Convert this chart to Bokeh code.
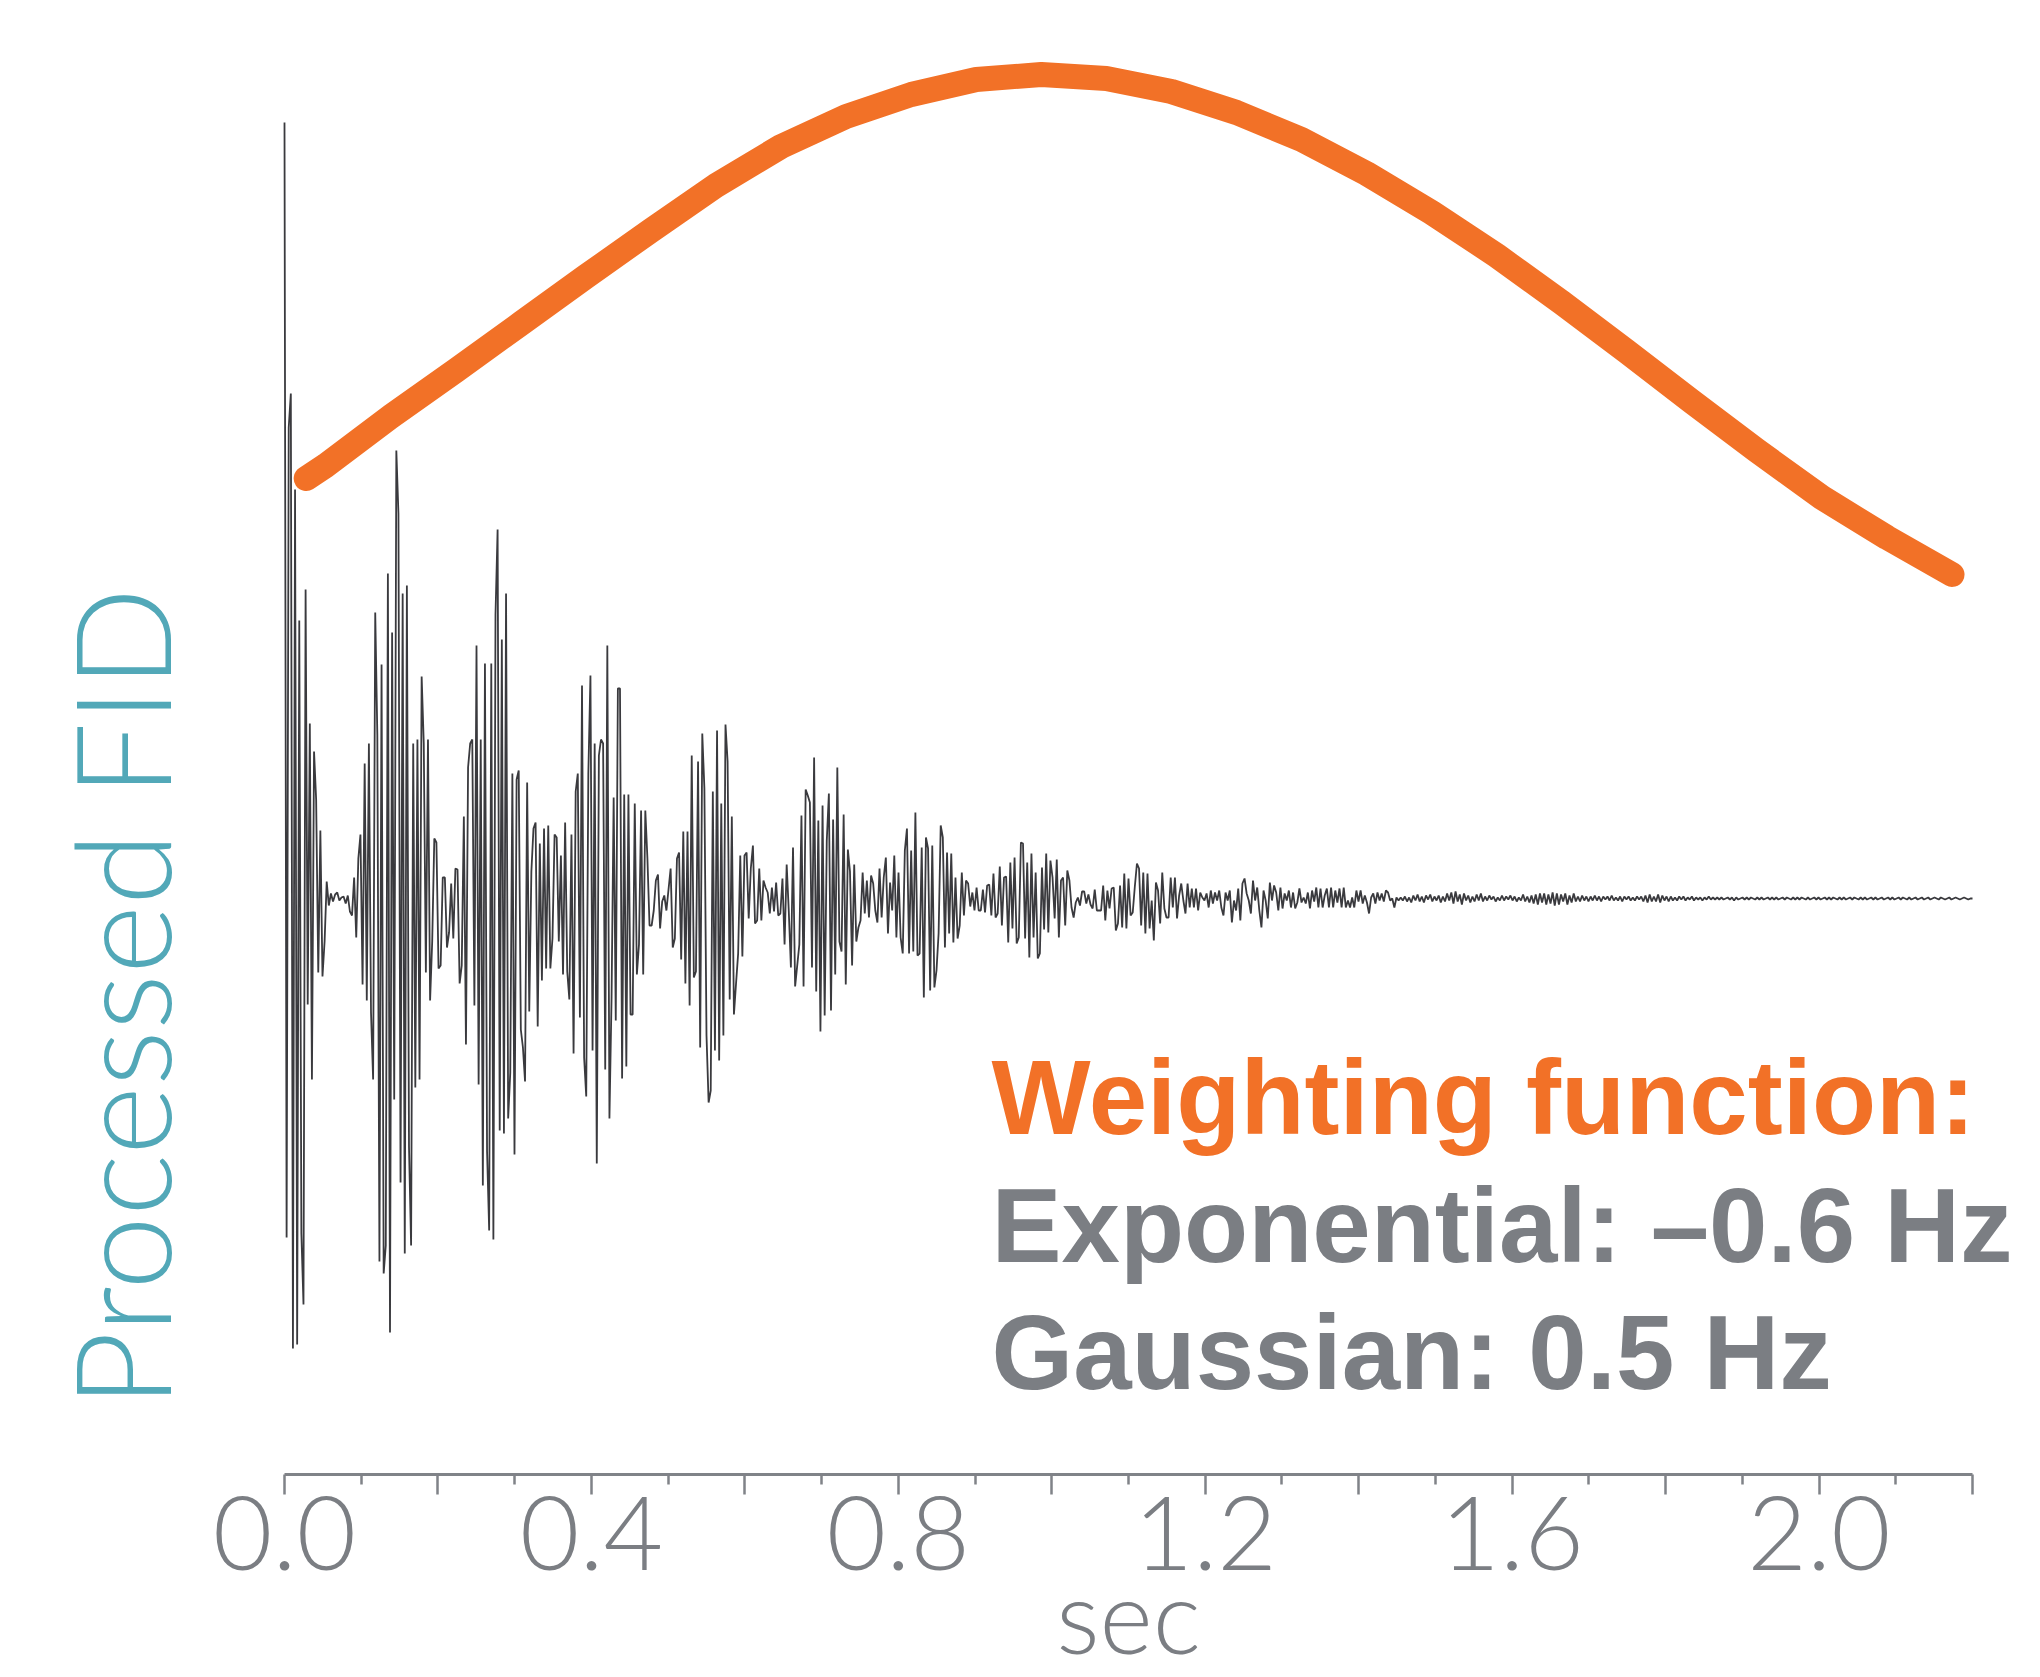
import numpy as np
from bokeh.plotting import figure
from bokeh.models import Range1d, FixedTicker, Label
from bokeh.embed import file_html
from bokeh.resources import INLINE

# ---------------- data ----------------
# Processed FID, sampled uniformly from 0 to 2.2 s (arbitrary units, baseline 0)
fid_part_a = [776, -339, 471, 505, -450, 409, -446, 278, -335, -406,
              309, -106, 175, -181, 147, 99, -74, 68, -78, -43,
              17, -7, 5, -3, 4, 6, -2, 1, 2, -5,
              3, -13, -17, 21, -39, 40, 64, -86, 135, -102,
              155, -114, -181, 286, 163, -363, 234, -375, -347, 325,
              -434, 266, -201, 448, 385, -284, 305, -355, 313, -248,
              -347, 155, -189, 159, -181, 222, 155, -74, 159, -102,
              -43, 60, 56]
fid_part_b = [-70, -67, 21, 21, -49, -34, 15, -40, 30, 29,
              -85, -67, 82, -146, 131, 155, 159, -107, 253, -186,
              159, -287, 235, -253, -332, 235, -341, 284, 369, -232,
              259, -235, 305, -220, -174, 125, -256, 119, 128, -131,
              -149, -183, 116, -113, 27, 70, 76, -128, 55, -82,
              70, -70, 73, -70, -40, 64, 61, -43, 43,
              -76, 76, -73, -101, 64, -155, 107, 125, -119, 213,
              -159, -198, 125, 223, -152, 155, -265, 143, 159, 155,
              -171, 253, -220, -100, 101, -122, 210, 210, -180, 104,
              -168, 104, -116, -116, 95, -76, -46, 88, -76, 88,
              40, -27, -27, -12, 18, 24, -30, -3, 3,
              -12, 9, 30, -49, -40, 40, 46, -61, 67,
              -85, 67, -107, 143, -79, -73, 137, -149, 165, 110,
              -137, -204, -192, 107, -152, 168, -162, 95, -137, 174,
              137, -101, 82, -116, -85, -55, 43, -58, 43, 46, -20]
fid_part_c = [30, 53, -25, -22, 30, -22, 18, 11, 6, -15,
              11, -13, 16, -17, -15, 20, -46, 34, -13, -69,
              51, -88, -67, -46, 83, -88, 109, 103, 96, -69,
              141, -93, 78, -133, 93, -117, 58, 105, -112, 79,
              -76, 131, -43, -53, 84, -86, 49, 27, -67, 34,
              -43, -29]
fid_part_d = [-22, 26, -15, 18, -19, 23, 15, -12, -24, 30,
              -19, 21, 41, -35, 16, -12, 43, -39, 26, -39,
              -55, 48, 70, -55, 48, -53, 86, -57, -55, 51,
              -99, 61, 50, -92, 53, -89, -72, -35, 73, 61,
              -49, 46, -35, 45, -44, 21, -40, -27, 26, -17,
              18, 15, -8, 6, -12, 11, -12, -12, 9, -14, 13, 14,
              -17, 25, -19, -15, 32, -27, 21, 22, -44, 36,
              -30, 41, -45, -39, 56, 55, -40, 36, -59, 45,
              -39, 26, -60, -55, 31, -31, 45, -34, 38, 21,
              -20, 39, -39, 18, 21, -27, 28, 18, -9, -19,
              -4, 1, -7, 7, 7, -5, 4, -6, -10, 9, -12, -12, -12,
              13, -22, 8, -10, 10, 11, -32, -25, 13, -29, 25, -30,
              20, -17, -14, 12, 35, 30, -27, 26, -35, 25, -30]
fid_part_e = [-2, -42, 16, 8, -25, 26, -10, -19, -19, 21,
              -9, 21, -20, 3, 15, -2, -15, 15, -9, 10,
              -9, 10, -12, 6, 1, -2, 5, -9, 8, -5,
              6, -2, 8, -9, -17, 6, -2, 8, -24, -2,
              -12, 10, -22, 15, 20, 5, -2, -15, 18, -2]
fid_part_f = [11, -12, -29, 8, -2, -20, 16, -2, 13, 6,
              -12, 11, -10, 5, -2, 8, -9, 6, -10, -4,
              10, -4, 1, -5, 6, -10, 8, -3, 11, -9,
              10, -9, 3, 10, -9, 11, -9, 8, -4, 10,
              -9, 11, -9, -2, -9, 1, -9, 8, -3, 8,
              -5, 3, -4, -15, 1, 5, -5, 6, -2, 5,
              -3, 8, 6, -2, 0, -9, 1, -2, 1, -2]
fid_part_g = [2, -3, 1, -4, 3, -2, 4, -3, 2, -4,
              3, -1, 4, -3, 2, -2, 3, -4, 2, -3,
              5, -2, 6, -5, 7, -3, 4, -6, 5, -2,
              3, -4, 2, -3, 4, -2, 5, -3, 2, -2,
              3, -1, 2, -3, 1, -2, 3, -2, 2, -1,
              3, -2, 2, -3, 1, -2, 4, -3, 2, -4,
              3, -5, 4, -6, 5]
fid_part_h = [-4, 5, -6, 4, -5, 6, -7, 5, -6, 4, -3, 5, -6, 3, -4, 5, -3, 2, -3, 3,
              -2, 2, -3, 2, -2, 3,
              -2, 2, -3, 2, -1, 2, -2, 3, -2, 1, -2, 2, -3, 2, -1, 2, -2, 1, -2, 2,
              -1, 2, -3, 3, -4, 4, -3, 2, -3, 4, -4, 3, -2, 2, -3, 2, -2, 1, -2, 2,
              -1, 2, -2, 1, -1, 2, -2, 1, -1, 1, -2, 1, -1, 2, -1, 1, -1,
              1, -1, 1, -1, 0, 1, -1, 1, -2, 1, -1, 0, 1, -1, 1, -1, 1, 0, -1, 1,
              -1, 1, -1, 0, 1, -1, 1, -1, 1, -1, 0, 1, -1, 1, 0, -1, 1, -1, 1, -1,
              1, 0, -1, 1, -1, 0, 1, -1, 1, -1, 0, 1, -1, 1, -1, 1, 0, -1, 1, -1,
              1, -1, 0, 1, -1, 1, 0, -1, 1, -1, 1, -1, 0, 1, -1, 1, -1, 0, 1, -1,
              0, 1, -1, 1, -1, 0, 1, -1, 1, 0, -1, 1, -1, 0, 1, -1, 0, 1, -1, 0,
              1, -1, 0, 1, 0, -1, 1, 0, -1, 0, 1, -1, 0, 1, 0, -1, 0, 1, 0, -1, 0, 0]

fid_values = (fid_part_a + fid_part_b + fid_part_c + fid_part_d +
              fid_part_e + fid_part_f + fid_part_g + fid_part_h)
acq_time = 2.2  # seconds
fid_time = np.arange(len(fid_values)) * (acq_time / (len(fid_values) - 1))

# Weighting function (same vertical units)
weight_time = [0.0283, 0.0538, 0.1386, 0.2233, 0.3081, 0.3929, 0.4777, 0.5624,
               0.6472, 0.7320, 0.8168, 0.9016, 0.9863, 1.0711, 1.1559, 1.2407,
               1.3255, 1.4102, 1.4950, 1.5798, 1.6646, 1.7494, 1.8341, 1.9189,
               2.0037, 2.0885, 2.1733]
weight_values = [420, 433, 482, 528, 575, 622, 668, 713,
                 752, 782, 804, 819, 824, 820, 807, 786,
                 759, 725, 686, 643, 596, 547, 497, 448,
                 401, 361, 324]

major_ticks = [0.0, 0.2, 0.4, 0.6, 0.8, 1.0, 1.2, 1.4, 1.6, 1.8, 2.0, 2.2]
minor_ticks = [0.1, 0.3, 0.5, 0.7, 0.9, 1.1, 1.3, 1.5, 1.7, 1.9, 2.1]
tick_labels = {0.0: "0.0", 0.2: "", 0.4: "0.4", 0.6: "", 0.8: "0.8", 1.0: "",
               1.2: "1.2", 1.4: "", 1.6: "1.6", 1.8: "", 2.0: "2.0", 2.2: ""}

x_title = "sec"
y_title = "Processed FID"
annotation_lines = ["Weighting function:", "Exponential: \u20130.6 Hz", "Gaussian: 0.5 Hz"]

# ---------------- styling ----------------
ORANGE = "#F27127"
GREY = "#7B7E83"
AXIS_GREY = "#808388"
TEAL = "#52A8B8"
FID_COLOR = "#3A3A3E"

# The frame covers the whole canvas; the time axis is pinned at the
# level of the bottom rule and limited to 0 - 2.2 s.
p = figure(width=2040, height=1677,
           x_range=Range1d(-0.37014, 2.28862), y_range=Range1d(-779, 898),
           output_backend="svg", toolbar_location=None,
           y_axis_location=None,
           min_border_left=0, min_border_right=0,
           min_border_top=0, min_border_bottom=0)
p.outline_line_color = None
p.grid.visible = False
p.background_fill_color = "white"
p.border_fill_color = "white"

p.line(fid_time, fid_values, line_color=FID_COLOR, line_width=1.8)
p.line(weight_time, weight_values, line_color=ORANGE, line_width=25,
       line_cap="round", line_join="round")

ax = p.xaxis[0]
ax.fixed_location = -576
ax.bounds = (0, 2.2)
ax.ticker = FixedTicker(ticks=major_ticks, minor_ticks=minor_ticks)
ax.major_label_overrides = tick_labels
ax.axis_line_color = AXIS_GREY
ax.axis_line_width = 3
ax.major_tick_line_color = AXIS_GREY
ax.major_tick_line_width = 2.5
ax.minor_tick_line_color = AXIS_GREY
ax.minor_tick_line_width = 2.5
ax.major_tick_in = 0
ax.major_tick_out = 20
ax.minor_tick_in = 0
ax.minor_tick_out = 10
ax.major_label_standoff = 2
ax.major_label_text_font = "Lato Light"
ax.major_label_text_font_size = "103px"
ax.major_label_text_color = GREY

p.add_layout(Label(x=1.1, y=-716, text=x_title, text_align="center",
                   text_baseline="alphabetic", text_font="Lato Light",
                   text_font_size="102px", text_color=GREY))

p.add_layout(Label(x=-0.2150, y=-99, text=y_title, angle=np.pi / 2,
                   text_align="center", text_baseline="middle",
                   text_font="Lato Light", text_font_size="132px",
                   text_color=TEAL))

ys = [-199, -327, -454]
colors = [ORANGE, GREY, GREY]
for line_text, yy, col in zip(annotation_lines, ys, colors):
    p.add_layout(Label(x=0.9214, y=yy, text=line_text, text_align="left",
                       text_baseline="alphabetic", text_font="Liberation Sans",
                       text_font_style="bold", text_font_size="105px",
                       text_color=col))

open("out.html", "w").write(file_html(p, INLINE))
